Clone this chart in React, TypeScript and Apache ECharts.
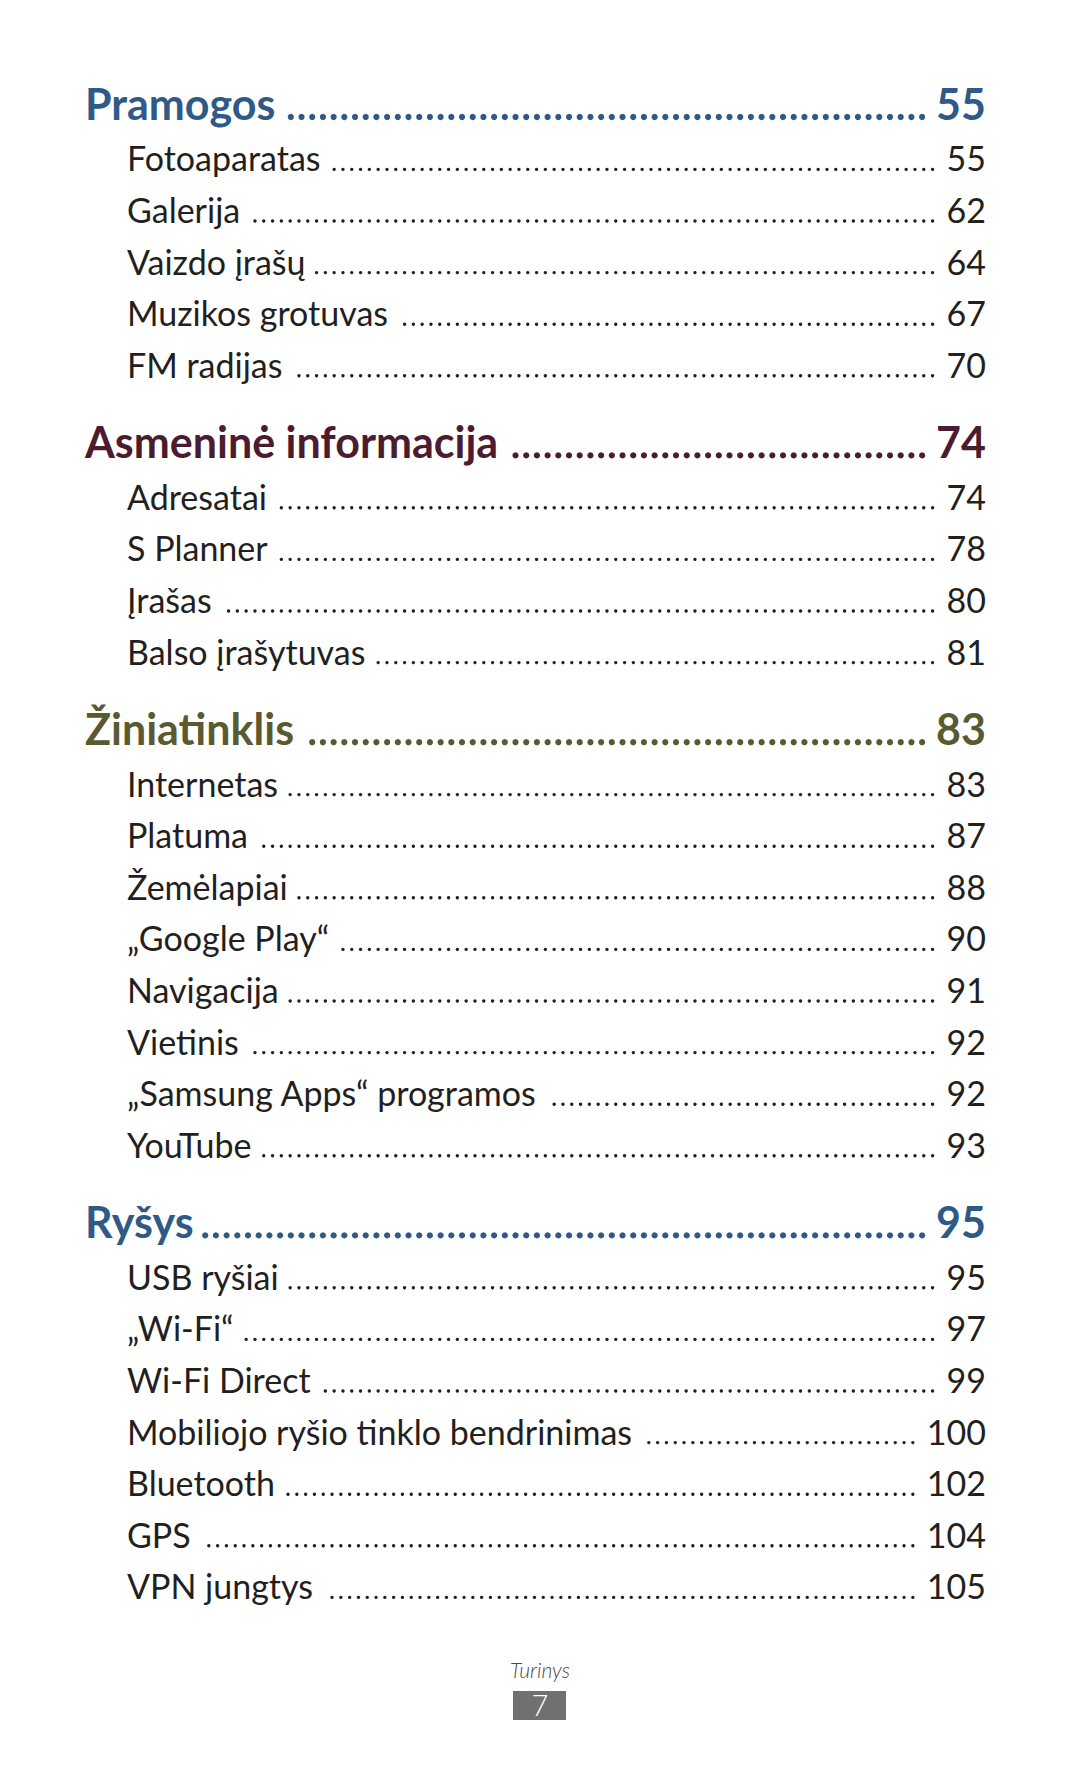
import React, { useEffect, useRef } from "react";
import * as echarts from "echarts";

const sectionTitles = ["Pramogos", "Asmeninė informacija", "Žiniatinklis", "Ryšys"];
const sectionPages = ["55", "74", "83", "95"];
const sectionColors = ["#2f5a88", "#4b1c30", "#5a5a31", "#2f5a88"];

const pramogosItems = ["Fotoaparatas", "Galerija", "Vaizdo įrašų", "Muzikos grotuvas", "FM radijas"];
const pramogosPages = ["55", "62", "64", "67", "70"];
const asmenineItems = ["Adresatai", "S Planner", "Įrašas", "Balso įrašytuvas"];
const asmeninePages = ["74", "78", "80", "81"];
const ziniatinklisItems = ["Internetas", "Platuma", "Žemėlapiai", "„Google Play“", "Navigacija", "Vietinis", "„Samsung Apps“ programos", "YouTube"];
const ziniatinklisPages = ["83", "87", "88", "90", "91", "92", "92", "93"];
const rysysItems = ["USB ryšiai", "„Wi-Fi“", "Wi-Fi Direct", "Mobiliojo ryšio tinklo bendrinimas", "Bluetooth", "GPS", "VPN jungtys"];
const rysysPages = ["95", "97", "99", "100", "102", "104", "105"];

const footerLabel = "Turinys";
const pageNumber = "7";

const sectionItems = [pramogosItems, asmenineItems, ziniatinklisItems, rysysItems];
const sectionItemPages = [pramogosPages, asmeninePages, ziniatinklisPages, rysysPages];

const ITEM_COLOR = "#231f20";
const HEAD_SIZE = 43;
const ITEM_SIZE = 34;
const HEAD_FONT = `bold ${HEAD_SIZE}px Lato`;
const ITEM_FONT = `normal ${ITEM_SIZE}px Lato`;
const HEAD_X = 85;
const ITEM_X = 127;
const RIGHT = 986;
const CENTRAL = 0.387;

function buildElements() {
  const canvas = document.createElement("canvas");
  const ctx = canvas.getContext("2d")!;
  const measure = (t: string, f: string) => {
    ctx.font = f;
    return ctx.measureText(t).width;
  };
  const els: any[] = [];
  const txt = (x: number, y: number, text: string, font: string, fill: string, align: string) => ({
    type: "text",
    silent: true,
    style: {
      x, y, text, font, fill,
      align, textAlign: align,
      verticalAlign: "middle", textVerticalAlign: "middle",
    },
  });
  const row = (
    text: string, page: string, x: number, baseline: number, font: string, size: number,
    color: string, dotR: number, pitch: number, lift: number, endGap: number, startGap: number
  ) => {
    const cy = baseline - CENTRAL * size;
    els.push(txt(x, cy, text, font, color, "left"));
    els.push(txt(RIGHT, cy, page, font, color, "right"));
    const textEnd = x + measure(text, font);
    const numLeft = RIGHT - measure(page, font);
    let dx = numLeft - endGap;
    while (dx >= textEnd + startGap) {
      els.push({
        type: "circle",
        silent: true,
        shape: { cx: dx, cy: baseline - lift, r: dotR },
        style: { fill: color },
      });
      dx -= pitch;
    }
  };

  let y = 120;
  sectionTitles.forEach((title, si) => {
    if (si > 0) y += 81;
    row(title, sectionPages[si], HEAD_X, y, HEAD_FONT, HEAD_SIZE, sectionColors[si], 3.1, 10.7, 3, 14, 10);
    y += 51;
    sectionItems[si].forEach((item, ii) => {
      if (ii > 0) y += 51.6;
      row(item, sectionItemPages[si][ii], ITEM_X, y, ITEM_FONT, ITEM_SIZE, ITEM_COLOR, 1.7, 8.8, 1.6, 14, 11);
    });
  });

  els.push(txt(540, 1678 - CENTRAL * 21, footerLabel, "italic 300 21px Lato", "#4a4a4a", "center"));
  els.push({
    type: "rect",
    silent: true,
    shape: { x: 513, y: 1691, width: 53, height: 29 },
    style: { fill: "#707070" },
  });
  els.push(txt(540, 1716 - CENTRAL * 29, pageNumber, "300 29px Lato", "#ffffff", "center"));
  return els;
}

export default function App() {
  const ref = useRef<HTMLDivElement>(null);
  useEffect(() => {
    if (!ref.current) return;
    const chart = echarts.init(ref.current, null, { renderer: "svg" });
    chart.setOption({
      animation: false,
      backgroundColor: "#ffffff",
      graphic: { elements: buildElements() },
    });
    return () => chart.dispose();
  }, []);
  return (
    <div
      ref={ref}
      style={{ position: "absolute", left: 0, top: 0, width: 1080, height: 1771, background: "#fff" }}
    />
  );
}
